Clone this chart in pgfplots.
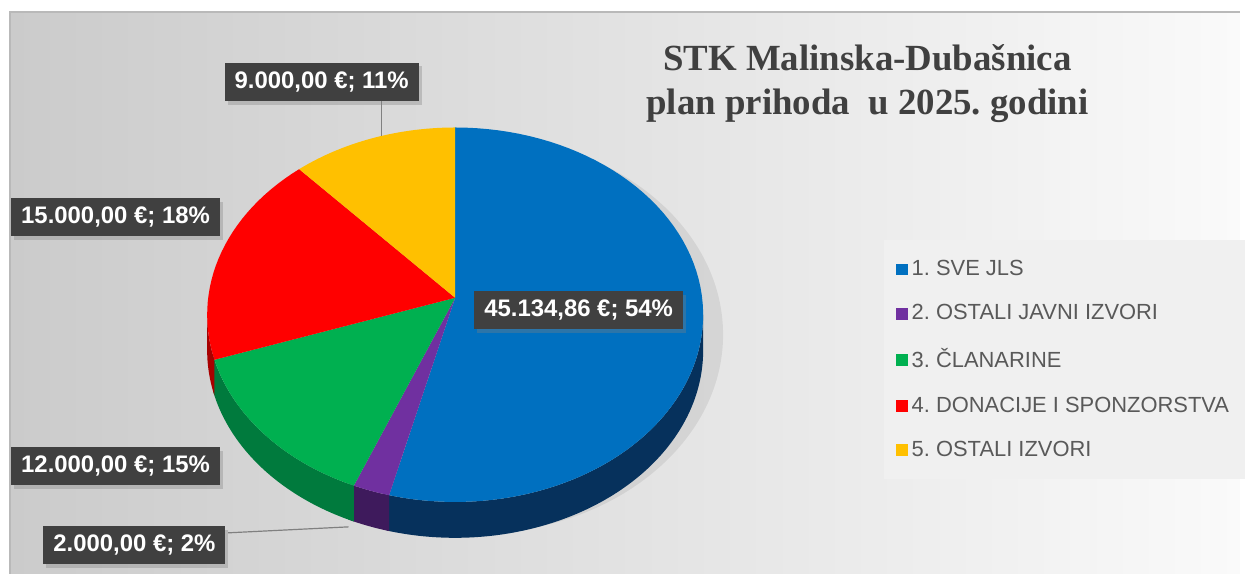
\documentclass[border=0pt]{standalone}
\usepackage{fontspec}
\setmainfont{Liberation Sans}
\newfontfamily\titlefont{Liberation Serif}
\usepackage{pgfplots}
\usepackage{pgfplotstable}
\pgfplotsset{compat=1.18}
\usetikzlibrary{shadows}
\frenchspacing

\definecolor{cBlue}{HTML}{0070C0}
\definecolor{cPurple}{HTML}{7030A0}
\definecolor{cGreen}{HTML}{00B050}
\definecolor{cRed}{HTML}{FF0000}
\definecolor{cYellow}{HTML}{FFC000}
\definecolor{dBlue}{HTML}{06315C}
\definecolor{dPurple}{HTML}{3E1A5C}
\definecolor{dGreen}{HTML}{007A3D}
\definecolor{dRed}{HTML}{A80000}
\definecolor{boxGray}{HTML}{404040}
\definecolor{titleGray}{HTML}{404040}
\definecolor{legGray}{HTML}{595959}
\definecolor{legBg}{HTML}{F0F0F0}
\definecolor{bgL}{HTML}{CBCBCB}
\definecolor{bgR}{HTML}{FAFAFA}

% income plan 2025 (EUR)
\pgfplotstableread[col sep=comma]{
id,value
1,45134.86
2,2000
3,12000
4,15000
5,9000
}\piedata

\pgfplotstablegetelem{0}{value}\of\piedata \let\vA\pgfplotsretval
\pgfplotstablegetelem{1}{value}\of\piedata \let\vB\pgfplotsretval
\pgfplotstablegetelem{2}{value}\of\piedata \let\vC\pgfplotsretval
\pgfplotstablegetelem{3}{value}\of\piedata \let\vD\pgfplotsretval
\pgfplotstablegetelem{4}{value}\of\piedata \let\vE\pgfplotsretval
\edef\vsum{\fpeval{\vA+\vB+\vC+\vD+\vE}}
% cumulative end angles, clockwise from 12 o'clock
\edef\eA{\fpeval{360*\vA/\vsum}}
\edef\eB{\fpeval{\eA+360*\vB/\vsum}}
\edef\eC{\fpeval{\eB+360*\vC/\vsum}}
\edef\eD{\fpeval{\eC+360*\vD/\vsum}}

% rim: x = 457+249 sin t, y = 316-188 cos t (top), +36 for the bottom edge
\newcommand\topx{457+249*sin(x)}
\newcommand\topy{316-188*cos(x)}
% side wall from angle #2 to #3: top edge forward, bottom edge back
\newcommand\sidewall[4]{%
  \addplot[fill=#1, draw=none, forget plot, domain=#2:#4, samples=241]
    ({457+249*sin(x<=#3 ? x : 2*#3-x)},
     {(x<=#3 ? 316 : 352)-188*cos(x<=#3 ? x : 2*#3-x)}) -- cycle;}
% walls run 1.5 degrees into the next slice, which is drawn over them
\edef\xA{\fpeval{\eA+1.5}}
\edef\xB{\fpeval{\eB+1.5}}
\edef\xC{\fpeval{\eC+1.5}}
\edef\wA{\fpeval{2*\xA-90}}
\edef\wB{\fpeval{2*\xB-\eA}}
\edef\wC{\fpeval{2*\xC-\eB}}
\edef\wD{\fpeval{2*270-\eC}}

\tikzset{lbl/.style={fill=boxGray, text=white, font=\bfseries\fontsize{12}{14}\selectfont,
  inner xsep=5pt, inner ysep=4.5pt,
  drop shadow={shadow xshift=1.5pt, shadow yshift=-2pt, opacity=0.35}}}

\begin{document}
\begin{tikzpicture}
\begin{axis}[
  width=622.5pt, height=288pt, scale only axis,
  xmin=0, xmax=1245, ymin=0, ymax=576, y dir=reverse,
  axis lines=none, clip=false,
  legend style={at={(axis cs:887,241)}, anchor=north west, draw=none,
    fill=legBg, font=\fontsize{11}{13}\selectfont, text=legGray,
    row sep=9pt, inner xsep=6pt, inner ysep=8pt},
  legend cell align=left,
  legend image code/.code={\fill[#1] (0pt,-3pt) rectangle (6pt,3pt);},
]
% background
\fill[white] (0,0) rectangle (1245,576);
\shade[left color=bgL, right color=bgR] (10,12) rectangle (1245,576);
\draw[gray!55, line width=0.8pt] (10,576) -- (10,12) -- (1245,12);
\fill[black, opacity=0.07] (474,336) ellipse [x radius=252, y radius=200];

% side walls
\sidewall{dBlue}{90}{\xA}{\wA}
\sidewall{dPurple}{\eA}{\xB}{\wB}
\sidewall{dGreen}{\eB}{\xC}{\wC}
\sidewall{dRed}{\eC}{270}{\wD}

% top faces
\addplot[fill=cBlue, draw=none, domain=0:\eA, samples=80] ({\topx},{\topy}) -- (457,299) -- cycle;
\addlegendentry{1. SVE JLS}
\addplot[fill=cPurple, draw=none, domain=\eA:\eB, samples=10] ({\topx},{\topy}) -- (457,299) -- cycle;
\addlegendentry{2. OSTALI JAVNI IZVORI}
\addplot[fill=cGreen, draw=none, domain=\eB:\eC, samples=30] ({\topx},{\topy}) -- (457,299) -- cycle;
\addlegendentry{3. ČLANARINE}
\addplot[fill=cRed, draw=none, domain=\eC:\eD, samples=30] ({\topx},{\topy}) -- (457,299) -- cycle;
\addlegendentry{4. DONACIJE I SPONZORSTVA}
\addplot[fill=cYellow, draw=none, domain=\eD:360, samples=30] ({\topx},{\topy}) -- (457,299) -- cycle;
\addlegendentry{5. OSTALI IZVORI}

% leader lines
\draw[gray, line width=0.6pt] (383,100) -- (383,137);
\draw[gray, line width=0.6pt] (229,535) -- (350,529);

% data labels
\node[lbl] at (323,82) {9.000,00 €; 11\%};
\node[lbl] at (116,218) {15.000,00 €; 18\%};
\node[lbl] at (581,311) {45.134,86 €; 54\%};
\node[lbl] at (116,468) {12.000,00 €; 15\%};
\node[lbl] at (135,547) {2.000,00 €; 2\%};

% title
\node[font=\titlefont\bfseries\fontsize{18.5}{22}\selectfont, text=titleGray, align=center]
  at (871,84) {STK Malinska-Dubašnica\\plan prihoda\ \ u 2025. godini};
\end{axis}
\end{tikzpicture}
\end{document}
